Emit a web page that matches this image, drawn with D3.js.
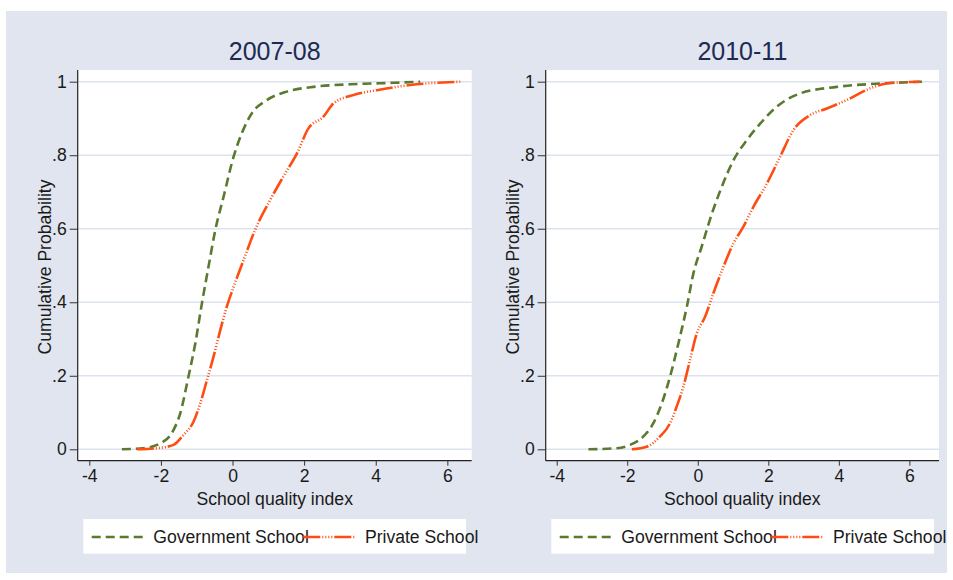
<!DOCTYPE html>
<html>
<head>
<meta charset="utf-8">
<script src="https://cdn.jsdelivr.net/npm/d3@7"></script>
<style>
  html, body { margin: 0; padding: 0; background: #ffffff; }
  svg { display: block; font-family: "Liberation Sans", Arial, Helvetica, sans-serif; }
</style>
</head>
<body>
<svg id="chart" width="953" height="580"></svg>
<script>
// Empirical CDFs of the school quality index, by school type and survey round
const panelTitles = ["2007-08", "2010-11"];
const seriesNames = ["Government School", "Private School"];
const xTicks = [-4, -2, 0, 2, 4, 6];
const xTickLabels = ["-4", "-2", "0", "2", "4", "6"];
const yTicks = [0, 0.2, 0.4, 0.6, 0.8, 1];
const yTickLabels = ["0", ".2", ".4", ".6", ".8", "1"];

// 2007-08: [index, cumulative probability]
const gov0708 = [
  [-3.09, 0], [-2.49, 0.003], [-2.02, 0.016], [-1.65, 0.052], [-1.46, 0.098],
  [-1.23, 0.198], [-1.04, 0.288], [-0.855, 0.397], [-0.67, 0.497], [-0.48, 0.597],
  [-0.25, 0.687], [0.03, 0.796], [0.26, 0.86], [0.54, 0.914], [0.96, 0.95],
  [1.52, 0.973], [2.26, 0.986], [3.57, 0.994], [4.5, 0.997], [5.24, 1.0]
];
const pvt0708 = [
  [-2.67, 0], [-2.11, 0.003], [-1.65, 0.012], [-1.37, 0.039], [-1.09, 0.075],
  [-0.90, 0.125], [-0.715, 0.188], [-0.53, 0.252], [-0.34, 0.325], [-0.16, 0.388],
  [0.03, 0.442], [0.31, 0.515], [0.63, 0.597], [1.05, 0.678], [1.42, 0.742],
  [1.80, 0.805], [2.12, 0.873], [2.54, 0.905], [2.82, 0.941], [3.38, 0.964],
  [4.03, 0.977], [4.96, 0.991], [6.36, 1.0]
];
// 2010-11
const gov1011 = [
  [-3.10, 0], [-2.30, 0.003], [-1.92, 0.012], [-1.54, 0.035], [-1.26, 0.071],
  [-1.02, 0.125], [-0.785, 0.198], [-0.55, 0.288], [-0.31, 0.388], [-0.125, 0.478],
  [0.11, 0.551], [0.40, 0.641], [0.68, 0.714], [1.01, 0.786], [1.39, 0.841],
  [1.77, 0.886], [2.24, 0.932], [2.90, 0.968], [3.94, 0.986], [5.17, 0.995], [6.40, 1.0]
];
const pvt1011 = [
  [-1.87, 0], [-1.45, 0.007], [-1.07, 0.035], [-0.785, 0.071], [-0.60, 0.116],
  [-0.41, 0.17], [-0.22, 0.243], [-0.03, 0.315], [0.21, 0.361], [0.44, 0.424],
  [0.73, 0.497], [1.01, 0.56], [1.29, 0.605], [1.58, 0.66], [1.96, 0.723],
  [2.33, 0.795], [2.71, 0.868], [3.18, 0.909], [3.66, 0.927], [4.22, 0.95],
  [4.89, 0.982], [5.36, 0.995], [6.31, 1.0]
];

const panelSeries = [[gov0708, pvt0708], [gov1011, pvt1011]];

const colors = ["#5a7a2f", "#ff4d12"];
const dashes = ["9 5", "17 2 1 2 1 2 1 2 1 2"];
const fs = 17.6;

const svg = d3.select("#chart");
// outer frame
svg.append("rect").attr("x", 6).attr("y", 11).attr("width", 941).attr("height", 562)
  .attr("fill", "#e1e5ef");

// per-panel layout
const panels = [
  { left: 77.7, right: 471.7, xdom: [-4.324, 6.68], ylab: 45 },
  { left: 545.7, right: 939, xdom: [-4.312, 6.84], ylab: 513 }
];
const plotTop = 70, plotBottom = 460.7;

const line = d3.line().curve(d3.curveMonotoneX);

panels.forEach((p, i) => {
  const g = svg.append("g");
  const x = d3.scaleLinear().domain(p.xdom).range([p.left, p.right]);
  const y = d3.scaleLinear().domain([0, 1]).range([449.3, 81.7]);

  // plot region
  g.append("rect").attr("x", p.left).attr("y", plotTop)
    .attr("width", p.right - p.left).attr("height", plotBottom - plotTop).attr("fill", "#ffffff");

  // grid lines
  g.selectAll(".grid").data(yTicks).join("line")
    .attr("x1", p.left).attr("x2", p.right)
    .attr("y1", d => y(d)).attr("y2", d => y(d))
    .attr("stroke", "#dde3ee").attr("stroke-width", 1.6);

  // title
  g.append("text").attr("x", (p.left + p.right) / 2).attr("y", 60)
    .attr("text-anchor", "middle").attr("font-size", 25).attr("fill", "#1d2b52")
    .text(panelTitles[i]);

  // axes
  const yAxis = d3.axisLeft(y).tickValues(yTicks)
    .tickFormat((d, k) => yTickLabels[k]).tickSize(8).tickPadding(3);
  const ya = g.append("g").attr("transform", `translate(${p.left},0)`).call(yAxis);
  ya.select(".domain").attr("d", `M0,${plotTop}V${plotBottom}`);

  const xAxis = d3.axisBottom(x).tickValues(xTicks)
    .tickFormat((d, k) => xTickLabels[k]).tickSize(5).tickPadding(4);
  const xa = g.append("g").attr("transform", `translate(0,${plotBottom})`).call(xAxis);
  xa.select(".domain").attr("d", `M${p.left},0H${p.right}`);

  [ya, xa].forEach(a => {
    a.selectAll("text").attr("font-size", fs).attr("fill", "#1a1a1a")
      .attr("font-family", "Liberation Sans, Arial, sans-serif");
    a.selectAll("line").attr("stroke", "#333").attr("stroke-width", 1);
    a.select(".domain").attr("stroke", "#222").attr("stroke-width", 1.2);
  });

  // axis titles
  g.append("text").attr("x", (p.left + p.right) / 2).attr("y", 505)
    .attr("text-anchor", "middle").attr("font-size", fs).attr("fill", "#1a1a1a")
    .text("School quality index");
  g.append("text").attr("transform", `translate(${p.ylab + 6},${267}) rotate(-90)`)
    .attr("text-anchor", "middle").attr("font-size", fs).attr("fill", "#1a1a1a")
    .text("Cumulative Probability");

  // curves
  panelSeries[i].forEach((s, k) => {
    g.append("path").datum(s.map(d => [x(d[0]), y(d[1])]))
      .attr("d", line).attr("fill", "none")
      .attr("stroke", colors[k]).attr("stroke-width", 2.6)
      .attr("stroke-dasharray", dashes[k]);
  });

  // legend
  const lx = p.left + 5.6;
  const lg = g.append("g");
  lg.append("rect").attr("x", lx).attr("y", 519).attr("width", 382.7).attr("height", 34.7)
    .attr("fill", "#ffffff");
  const keyX = [lx + 8.4, lx + 220];
  seriesNames.forEach((name, k) => {
    lg.append("line").attr("x1", keyX[k]).attr("x2", keyX[k] + 52)
      .attr("y1", 537).attr("y2", 537)
      .attr("stroke", colors[k]).attr("stroke-width", 2.6)
      .attr("stroke-dasharray", dashes[k]);
    lg.append("text").attr("x", keyX[k] + 61.6).attr("y", 542.7)
      .attr("font-size", fs).attr("fill", "#1a1a1a").text(name);
  });
});
</script>
</body>
</html>
